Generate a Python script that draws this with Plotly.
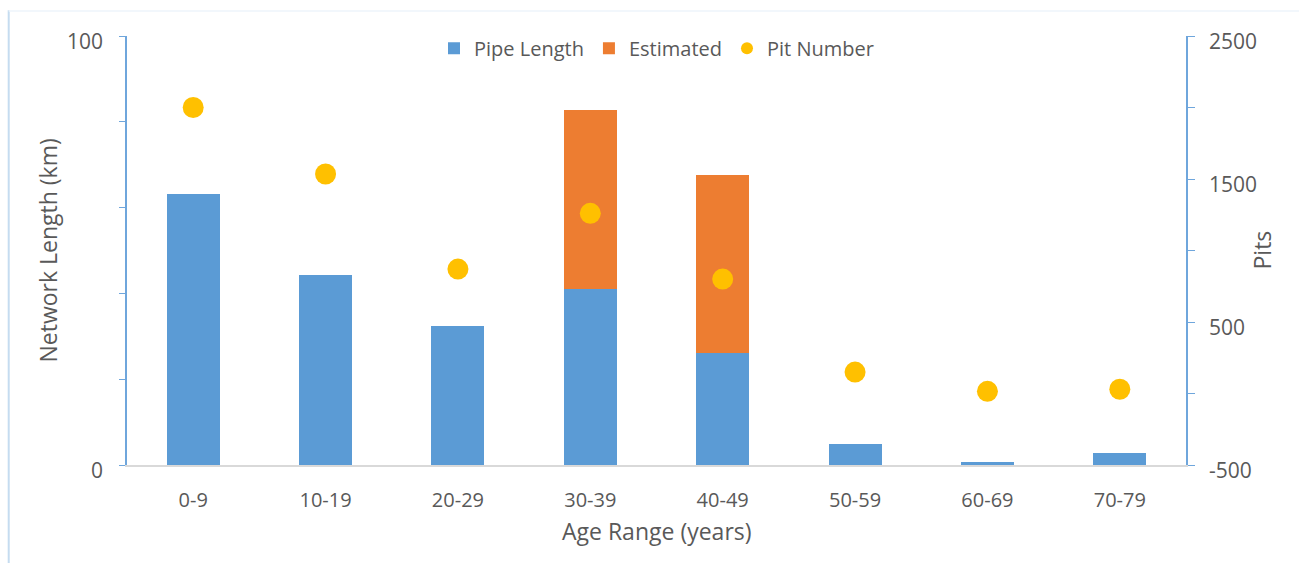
import plotly.graph_objects as go

age_ranges = ["0-9", "10-19", "20-29", "30-39", "40-49", "50-59", "60-69", "70-79"]
pipe_length_km = [63.1, 44.2, 32.3, 41.0, 26.0, 5.0, 0.8, 2.7]
estimated_km = [0, 0, 0, 41.8, 41.6, 0, 0, 0]
pit_number = [2000, 1535, 870, 1260, 800, 150, 15, 30]

left_ticks = [0, 100]
right_ticks = [-500, 500, 1500, 2500]
right_labels = ["-500", "500", "1500", "2500"]

FONT = "Open Sans"
TEXT = "#595959"
AXIS_BLUE = "#6fa6dc"

fig = go.Figure()
fig.add_trace(go.Bar(x=age_ranges, y=pipe_length_km, name="Pipe Length",
                     marker=dict(color="#5b9bd5", line=dict(width=0))))
fig.add_trace(go.Bar(x=age_ranges, y=estimated_km, name="Estimated",
                     marker=dict(color="#ed7d31", line=dict(width=0))))
fig.add_trace(go.Scatter(x=age_ranges, y=pit_number, name="Pit Number", yaxis="y2",
                         mode="markers", marker=dict(color="#ffc000", size=21)))

fig.update_layout(
    width=1299, height=563,
    margin=dict(l=127, r=113, t=36, b=98),
    paper_bgcolor="white", plot_bgcolor="white",
    barmode="stack", bargap=0.6,
    font=dict(family=FONT, color=TEXT, size=20),
    showlegend=True,
    legend=dict(orientation="h", x=0.5, xanchor="center", y=1.017, yanchor="top",
                traceorder="normal", font=dict(size=20, color=TEXT),
                bgcolor="rgba(0,0,0,0)", itemsizing="constant"),
    xaxis=dict(showline=True, linecolor="#d9d9d9", linewidth=2, ticks="",
               tickfont=dict(size=20, color=TEXT), showgrid=False, zeroline=False,
               ticklabelstandoff=16),
    yaxis=dict(range=[0, 100], tickvals=left_ticks, ticks="outside", ticklen=6,
               tickcolor=AXIS_BLUE, showline=True, linecolor=AXIS_BLUE, linewidth=1.5,
               showgrid=True, gridcolor="#d9d9d9", gridwidth=2, zeroline=False,
               tickfont=dict(size=21, color=TEXT), ticklabelstandoff=12,
               ticklabelshift=6,
               minor=dict(dtick=20, ticks="outside", ticklen=6, tickcolor=AXIS_BLUE,
                          showgrid=False)),
    yaxis2=dict(range=[-500, 2500], overlaying="y", side="right",
                tickvals=right_ticks, ticktext=right_labels, ticks="outside", ticklen=7,
                tickcolor=AXIS_BLUE, showline=True, linecolor=AXIS_BLUE, linewidth=1.5,
                showgrid=False, zeroline=False, tickfont=dict(size=21, color=TEXT),
                ticklabelstandoff=10, ticklabelshift=6,
                minor=dict(dtick=500, ticks="outside", ticklen=7, tickcolor=AXIS_BLUE,
                           showgrid=False)),
    annotations=[
        dict(text="Network Length (km)", xref="paper", yref="paper", x=0, y=0.5,
             xanchor="center", yanchor="middle", xshift=-80, textangle=-90,
             showarrow=False, font=dict(size=23, color=TEXT)),
        dict(text="Pits", xref="paper", yref="paper", x=1, y=0.5,
             xanchor="center", yanchor="middle", xshift=75, textangle=-90,
             showarrow=False, font=dict(size=23, color=TEXT)),
        dict(text="Age Range (years)", xref="paper", yref="paper", x=0.5, y=0,
             xanchor="center", yanchor="middle", yshift=-66,
             showarrow=False, font=dict(size=23, color=TEXT)),
    ],
    shapes=[
        dict(type="line", xref="paper", yref="paper", x0=-0.1117, x1=-0.1117,
             y0=1.06, y1=-0.23, line=dict(color="#c5dcf0", width=2)),
        dict(type="line", xref="paper", yref="paper", x0=-0.1117, x1=1.107,
             y0=1.058, y1=1.058, line=dict(color="#eef4fb", width=1.5)),
    ],
)

fig.write_html("out.html")
